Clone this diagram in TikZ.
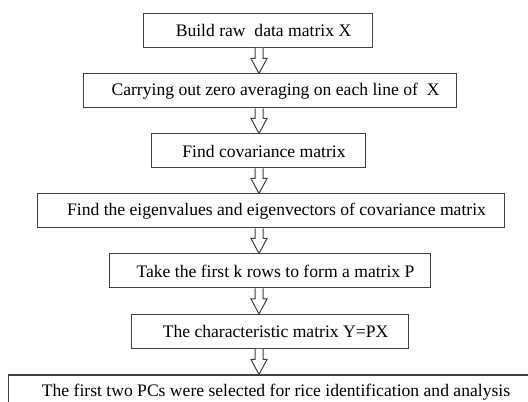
\documentclass[tikz,border=0pt]{standalone}
\usepackage{fontspec}
\setmainfont{Liberation Serif}
\usetikzlibrary{calc}
\tikzset{
	stepbox/.style={draw=black!75, line width=0.75pt, minimum height=25.5pt, inner sep=0pt, font=\fontsize{13.2}{15}\selectfont, execute at begin node={\hspace*{9pt}}},
	blockarrow/.style={draw=black!75, line width=0.75pt, fill=white}
}
\newcommand\flowarrow[2]{\draw[blockarrow] ($(#1 -| axis)+(-4,0)$) -- ($(#2 -| axis)+(-4,-15)$) -- ($(#2 -| axis)+(-8,-15)$) -- (#2 -| axis) -- ($(#2 -| axis)+(8,-15)$) -- ($(#2 -| axis)+(4,-15)$) -- ($(#1 -| axis)+(4,0)$);}

\begin{document}
\begin{tikzpicture}[x=0.75pt, y=-0.75pt]
			%%%%% START %%%%%
			
			\useasboundingbox (0, 0) rectangle (528, 402);
			\coordinate (axis) at (259, 0);
			
			\node[stepbox, minimum width=171.75pt] (raw) at (257.5, 30.5) {Build raw~ data matrix X};
			\node[stepbox, minimum width=279.75pt] (zero) at (269.5, 91) {Carrying out zero averaging on each line of~ X};
			\node[stepbox, minimum width=160.5pt] (cov) at (258, 151) {Find covariance matrix};
			\node[stepbox, minimum width=350.25pt] (eig) at (270.5, 211) {Find the eigenvalues and eigenvectors of covariance matrix};
			\node[stepbox, minimum width=240.75pt] (rows) at (269.5, 271) {Take the first k rows to form a matrix P};
			\node[stepbox, minimum width=207.75pt] (charm) at (269.5, 331.5) {The characteristic matrix Y=PX};
			\node[stepbox, minimum width=393pt] (pcs) at (270, 392) {The first two PCs were selected for rice identification and analysis};
			
			\flowarrow{raw.south}{zero.north}
			\flowarrow{zero.south}{cov.north}
			\flowarrow{cov.south}{eig.north}
			\flowarrow{eig.south}{rows.north}
			\flowarrow{rows.south}{charm.north}
			\flowarrow{charm.south}{pcs.north}
			
			%%%%% END %%%%%
\end{tikzpicture}
\end{document}
